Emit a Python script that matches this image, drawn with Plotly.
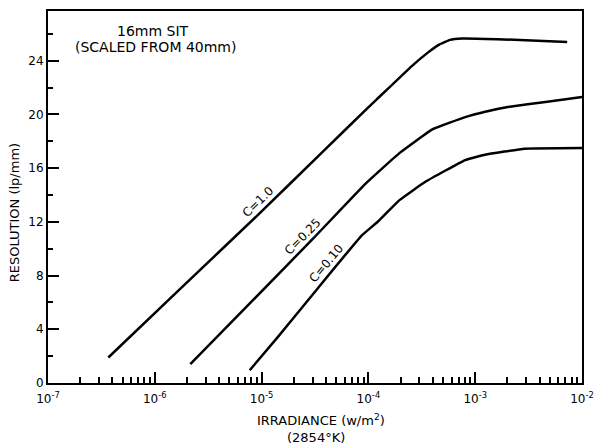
import plotly.graph_objects as go

# ---- data ----
x_c10 = [3.67e-7, 1.67e-6, 9.2e-6, 3.83e-5, 9.6e-5, 1.19e-4, 2.55e-4, 3.6e-4, 4.6e-4, 5.8e-4, 7.5e-4, 1.6e-3, 7.26e-3]
y_c10 = [1.9, 6.9, 12.5, 17.3, 20.4, 21.1, 23.6, 24.6, 25.2, 25.55, 25.65, 25.6, 25.4]

x_c025 = [2.15e-6, 8.26e-6, 3.16e-5, 9.57e-5, 1.94e-4, 4.0e-4, 8.07e-4, 1.24e-3, 2.02e-3, 4.74e-3, 1.0e-2]
y_c025 = [1.4, 6.15, 10.9, 14.9, 17.1, 18.9, 19.8, 20.2, 20.55, 20.95, 21.3]

x_c010 = [7.74e-6, 1.41e-5, 3.16e-5, 8.6e-5, 1.26e-4, 1.94e-4, 3.44e-4, 8.07e-4, 1.24e-3, 2.9e-3, 1.0e-2]
y_c010 = [0.95, 3.4, 6.8, 10.96, 12.1, 13.6, 15.0, 16.6, 17.0, 17.45, 17.5]

x_major = [1e-7, 1e-6, 1e-5, 1e-4, 1e-3, 1e-2]
x_major_text = ["10<sup>-7</sup>", "10<sup>-6</sup>", "10<sup>-5</sup>", "10<sup>-4</sup>", "10<sup>-3</sup>", "10<sup>-2</sup>"]
x_minor = [m * d for d in [1e-7, 1e-6, 1e-5, 1e-4, 1e-3] for m in range(2, 10)]

y_major = [0, 4, 8, 12, 16, 20, 24]
y_minor = [2, 6, 10, 14, 18, 22, 26]

curve_labels = ["C=1.0", "C=0.25", "C=0.10"]

FONT = "DejaVu Sans"
fig = go.Figure()
for xs, ys, name in [(x_c10, y_c10, curve_labels[0]), (x_c025, y_c025, curve_labels[1]), (x_c010, y_c010, curve_labels[2])]:
    fig.add_trace(go.Scatter(x=xs, y=ys, mode="lines", name=name,
                             line=dict(color="black", width=2.5, shape="spline", smoothing=0.3),
                             showlegend=False))

# curve labels (log10 x for annotations on a log axis)
for txt, lx, ly, ang in [(curve_labels[0], -5.037, 13.5, -44),
                         (curve_labels[1], -4.62, 10.9, -45),
                         (curve_labels[2], -4.389, 8.9, -50)]:
    fig.add_annotation(x=lx, y=ly, xref="x", yref="y", text=txt, showarrow=False,
                       textangle=ang, xanchor="center", yanchor="middle",
                       font=dict(family=FONT, size=12, color="black"))


def note(px, py, text, angle=0, size=13):
    fig.add_annotation(x=(px - 48) / 540, y=(383 - py) / 374, xref="paper", yref="paper",
                       text=text, showarrow=False, textangle=angle,
                       xanchor="center", yanchor="middle",
                       font=dict(family=FONT, size=size, color="black"))


note(154, 29, "16mm SIT", size=14)
note(157, 45, "(SCALED FROM 40mm)", size=14)
note(324, 420, "IRRADIANCE (w/m<sup>2</sup>)")
note(319, 438, "(2854°K)")
note(15, 212, "RESOLUTION (lp/mm)", -90)

fig.update_xaxes(type="log", range=[-7, -2], showgrid=False, zeroline=False,
                 showline=True, linecolor="black", linewidth=2, mirror=True,
                 ticks="inside", ticklen=11, tickwidth=1.5, tickcolor="black",
                 tickmode="array", tickvals=x_major, ticktext=x_major_text,
                 ticklabelstandoff=4,
                 tickfont=dict(family=FONT, size=12, color="black"),
                 minor=dict(tickmode="array", tickvals=x_minor, ticks="inside",
                            ticklen=6, tickwidth=1.5, tickcolor="black", showgrid=False))
fig.update_yaxes(range=[0, 27.7], showgrid=False, zeroline=False,
                 showline=True, linecolor="black", linewidth=2, mirror=True,
                 ticks="inside", ticklen=11, tickwidth=1.5, tickcolor="black",
                 tickmode="array", tickvals=y_major,
                 tickfont=dict(family=FONT, size=12, color="black"),
                 minor=dict(tickmode="array", tickvals=y_minor, ticks="inside",
                            ticklen=5, tickwidth=1.5, tickcolor="black", showgrid=False))

fig.update_layout(width=603, height=447, margin=dict(l=48, r=15, t=9, b=64),
                  paper_bgcolor="white", plot_bgcolor="white",
                  font=dict(family=FONT, color="black"))
fig.write_html("out.html")
